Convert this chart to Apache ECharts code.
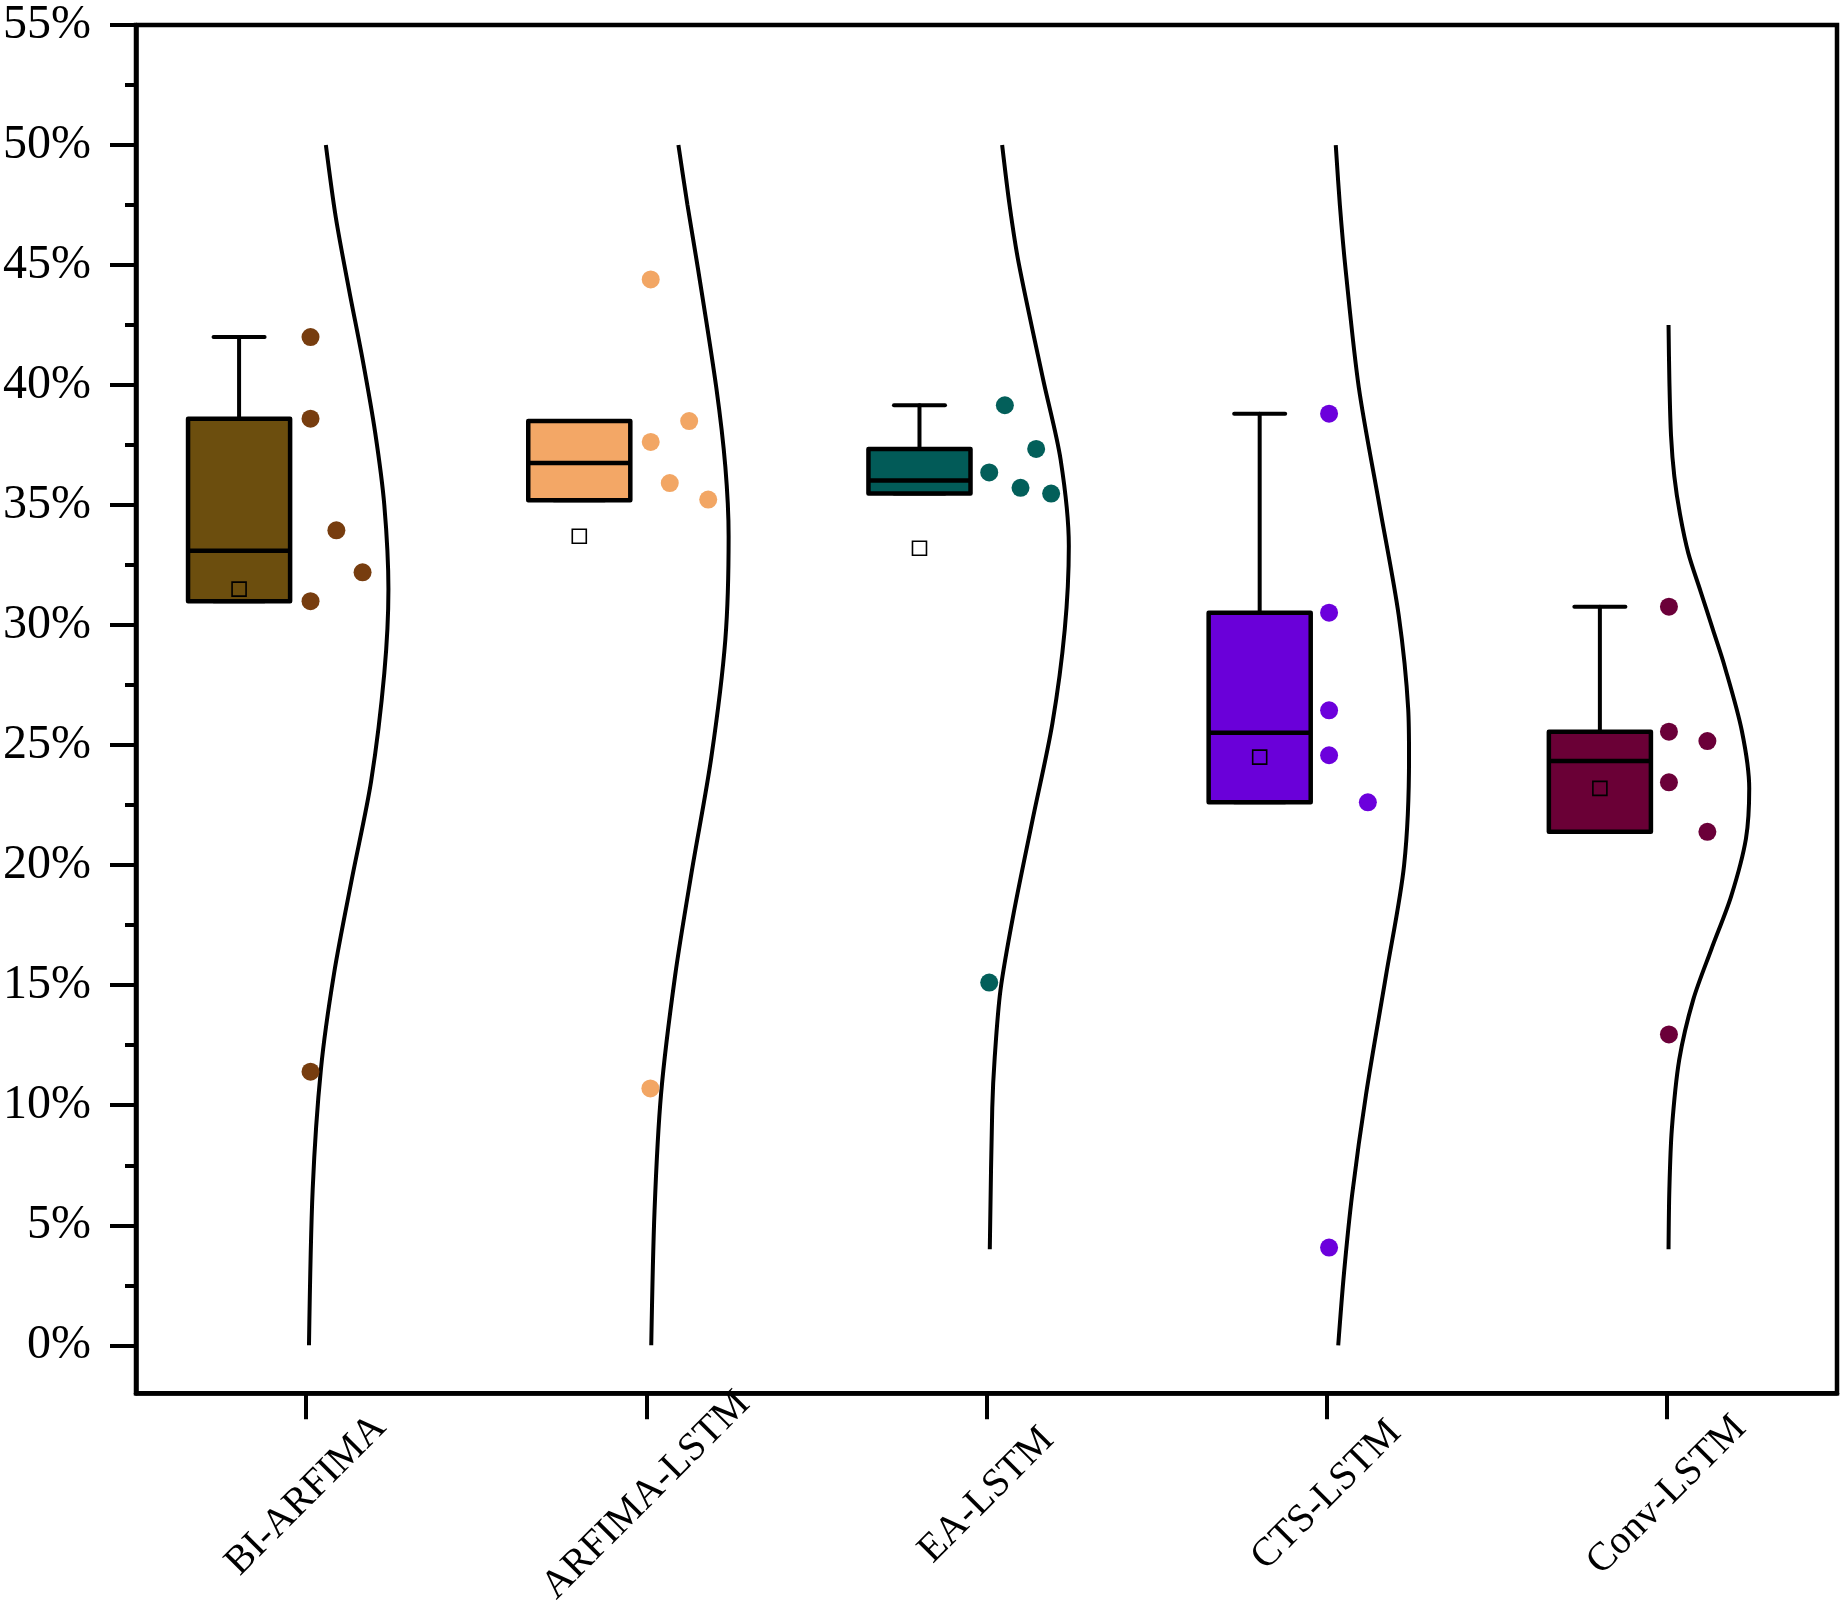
<!DOCTYPE html>
<html>
<head>
<meta charset="utf-8">
<script src="https://cdn.jsdelivr.net/npm/echarts@6/dist/echarts.min.js"></script>
<style>
html,body{margin:0;padding:0;background:#ffffff;}
#chart{width:1845px;height:1609px;}
</style>
</head>
<body>
<div id="chart"></div>
<script>
// ---------------- data ----------------
const categories = ['BI-ARFIMA', 'ARFIMA-LSTM', 'EA-LSTM', 'CTS-LSTM', 'Conv-LSTM'];
const yTickValues = [0, 5, 10, 15, 20, 25, 30, 35, 40, 45, 50, 55];
const yMinorTickValues = [2.5, 7.5, 12.5, 17.5, 22.5, 27.5, 32.5, 37.5, 42.5, 47.5, 52.5];
const xTickValues = [0, 1, 2, 3, 4];

// box statistics per category: lower whisker, Q1, median, Q3, upper whisker
const whiskerLow  = [31.0, 35.2, 35.48, 22.62, 21.39];
const q1          = [31.0, 35.2, 35.48, 22.62, 21.39];
const median      = [33.1, 36.75, 36.02, 25.52, 24.34];
const q3          = [38.6, 38.5, 37.34, 30.52, 25.56];
const whiskerHigh = [42.0, 38.5, 39.16, 38.81, 30.77];
const means       = [31.5, 33.7, 33.2, 24.5, 23.2];

// raw points (%), and horizontal jitter of each point (fraction of a category)
const biPoints    = [42.0, 38.6, 33.95, 32.2, 31.0, 11.4];
const biJitter    = [0.013, 0.013, 0.089, 0.166, 0.013, 0.013];
const arfPoints   = [44.4, 38.5, 37.63, 35.92, 35.23, 10.7];
const arfJitter   = [0.013, 0.126, 0.013, 0.069, 0.182, 0.012];
const eaPoints    = [39.16, 37.34, 36.36, 35.72, 35.48, 15.11];
const eaJitter    = [0.054, 0.146, 0.008, 0.100, 0.190, 0.008];
const ctsPoints   = [38.81, 30.52, 26.45, 24.58, 22.62, 4.07];
const ctsJitter   = [0.007, 0.007, 0.007, 0.007, 0.121, 0.007];
const convPoints  = [30.77, 25.56, 25.17, 23.45, 21.39, 12.95];
const convJitter  = [0.006, 0.006, 0.119, 0.006, 0.119, 0.006];

// density curves: [value %, relative density]
const biDensity = [[50,0.24],[47,0.36],[44,0.52],[41,0.69],[38,0.84],[35,0.95],[31.5,1],[28,0.95],[23.5,0.79],[19.5,0.56],[15.5,0.34],[11.5,0.18],[6.5,0.08],[0,0.035]];
const arfDensity = [[50,0.39],[47.5,0.5],[44.8,0.63],[39.9,0.85],[36.6,0.96],[33.7,1],[29.4,0.96],[24.5,0.79],[19.7,0.55],[15.4,0.35],[10.5,0.18],[5.6,0.1],[0,0.06]];
const eaDensity = [[50,0.19],[47.5,0.28],[45.1,0.39],[40.2,0.69],[36.9,0.9],[33.3,1],[29.8,0.95],[25.9,0.8],[21.9,0.56],[18,0.33],[14.8,0.17],[12,0.1],[9.9,0.07],[4,0.04]];
const ctsDensity = [[50,0.11],[47.5,0.16],[44.8,0.23],[39.9,0.39],[35,0.64],[30.4,0.875],[26.5,0.99],[24.5,1],[20,0.94],[15.4,0.72],[10.5,0.48],[6.3,0.31],[3,0.21],[0,0.14]];
const convDensity = [[42.5,0.02],[40.2,0.03],[37.9,0.05],[36.2,0.09],[34.6,0.16],[33,0.26],[31.4,0.41],[29.8,0.56],[28.3,0.7],[25.6,0.91],[23.2,1],[21.1,0.96],[18.7,0.78],[16.5,0.54],[14.4,0.32],[11.9,0.15],[9,0.06],[6.5,0.03],[4,0.02]];

// ---------------- styles ----------------
const BOX_COLORS   = ['#6C4E0E', '#F3A766', '#025B58', '#6A00D9', '#6A0036'];
const POINT_COLORS = ['#773D0F', '#F2A664', '#035F5A', '#6C00DC', '#6B0039'];
const BOX_OFFSET = -0.197;
const BOX_WIDTH = 0.30;
const CURVE_WIDTH = 0.242;
const FONT = '"Liberation Serif", "Times New Roman", serif';

const allPoints = [biPoints, arfPoints, eaPoints, ctsPoints, convPoints];
const allJitter = [biJitter, arfJitter, eaJitter, ctsJitter, convJitter];
const allDensity = [biDensity, arfDensity, eaDensity, ctsDensity, convDensity];

const boxData = categories.map((c, i) => [i, whiskerLow[i], q1[i], median[i], q3[i], whiskerHigh[i]]);

function renderBox(params, api) {
  const i = api.value(0);
  const cx = i + BOX_OFFSET;
  const lo = api.coord([cx, api.value(1)]);
  const b1 = api.coord([cx, api.value(2)]);
  const md = api.coord([cx, api.value(3)]);
  const b3 = api.coord([cx, api.value(4)]);
  const hi = api.coord([cx, api.value(5)]);
  const w = api.size([BOX_WIDTH, 0])[0];
  const cap = w / 2;
  const lineStyle = {stroke: '#000', lineWidth: 4, lineCap: 'round'};
  return {
    type: 'group',
    children: [
      {type: 'line', shape: {x1: hi[0], y1: hi[1], x2: b3[0], y2: b3[1]}, style: lineStyle},
      {type: 'line', shape: {x1: lo[0], y1: lo[1], x2: b1[0], y2: b1[1]}, style: lineStyle},
      {type: 'line', shape: {x1: hi[0] - cap / 2, y1: hi[1], x2: hi[0] + cap / 2, y2: hi[1]}, style: lineStyle},
      {type: 'line', shape: {x1: lo[0] - cap / 2, y1: lo[1], x2: lo[0] + cap / 2, y2: lo[1]}, style: lineStyle},
      {type: 'rect', shape: {x: b3[0] - w / 2, y: b3[1], width: w, height: b1[1] - b3[1]},
        style: {fill: BOX_COLORS[i], stroke: '#000', lineWidth: 4.5, lineJoin: 'round'}},
      {type: 'line', shape: {x1: md[0] - w / 2, y1: md[1], x2: md[0] + w / 2, y2: md[1]},
        style: {stroke: '#000', lineWidth: 4.5}}
    ]
  };
}

const series = [];
allDensity.forEach((d, i) => {
  series.push({
    type: 'line',
    data: d.map(([v, dens]) => [i + dens * CURVE_WIDTH, v]),
    smooth: 0.3,
    symbol: 'none',
    showSymbol: false,
    silent: true,
    lineStyle: {color: '#000', width: 4},
    z: 2
  });
});
series.push({
  type: 'custom',
  renderItem: renderBox,
  data: boxData,
  encode: {x: 0, y: [1, 2, 3, 4, 5]},
  z: 3
});
allPoints.forEach((p, i) => {
  series.push({
    type: 'scatter',
    data: p.map((v, k) => [i + allJitter[i][k], v]),
    symbolSize: 18,
    itemStyle: {color: POINT_COLORS[i], opacity: 1},
    z: 4
  });
});
series.push({
  type: 'scatter',
  data: means.map((m, i) => [i + BOX_OFFSET, m]),
  symbol: 'rect',
  symbolSize: 14,
  itemStyle: {color: 'rgba(0,0,0,0)', borderColor: '#000', borderWidth: 1.6, opacity: 1},
  z: 5
});

const chart = echarts.init(document.getElementById('chart'), null, {renderer: 'canvas'});
chart.setOption({
  animation: false,
  backgroundColor: '#ffffff',
  grid: {left: 136, right: 8, top: 25, bottom: 215, show: true, borderColor: '#000', borderWidth: 4.5},
  xAxis: {
    type: 'value', min: -0.5, max: 4.5,
    axisLine: {show: true, onZero: false, lineStyle: {color: '#000', width: 4.5}},
    axisTick: {show: true, customValues: xTickValues, length: 26, lineStyle: {color: '#000', width: 4}},
    axisLabel: {
      customValues: xTickValues,
      formatter: v => categories[Math.round(v)],
      rotate: 45, align: 'center', verticalAlign: 'middle', margin: 102,
      fontFamily: FONT, fontSize: 40, color: '#000'
    },
    splitLine: {show: false}
  },
  yAxis: [{
    type: 'value', min: -2, max: 55, position: 'left',
    axisLine: {show: true, onZero: false, lineStyle: {color: '#000', width: 4.5}},
    axisTick: {show: true, customValues: yTickValues, length: 26, lineStyle: {color: '#000', width: 4}},
    axisLabel: {customValues: yTickValues, formatter: v => v + '%', fontFamily: FONT, fontSize: 48,
      color: '#000', margin: 45, padding: [9, 0, 0, 0]},
    splitLine: {show: false}
  }, {
    type: 'value', min: -2, max: 55, position: 'left',
    axisLine: {show: false, onZero: false},
    axisTick: {show: true, customValues: yMinorTickValues, length: 11, lineStyle: {color: '#000', width: 4}},
    axisLabel: {show: false},
    splitLine: {show: false}
  }],
  series: series
});
</script>
</body>
</html>
